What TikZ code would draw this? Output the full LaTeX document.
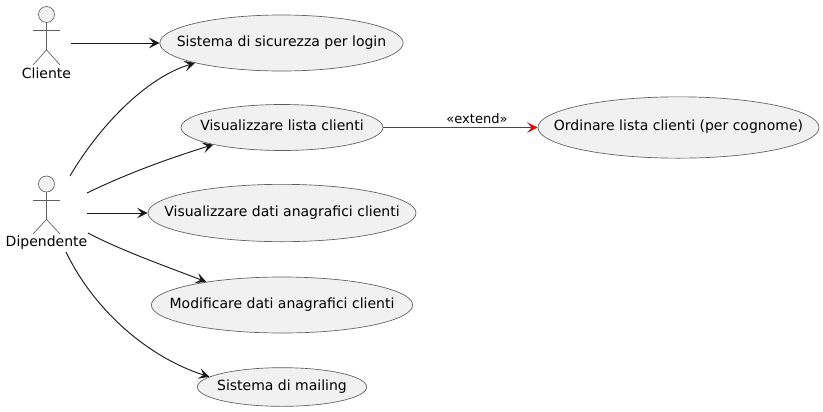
\documentclass[tikz,border=0pt]{standalone}
\usepackage{fontspec}
\setmainfont{DejaVu Sans}
\usetikzlibrary{arrows.meta,shapes.geometric}
\definecolor{ucfill}{HTML}{F1F1F1}
\definecolor{ucline}{HTML}{5F5F5F}
\definecolor{extred}{HTML}{F00000}
\tikzset{
  usecase/.style={ellipse,draw=ucline,fill=ucfill,line width=0.5pt,inner sep=0pt,label={[font=\fontsize{10.5}{12}\selectfont,inner sep=0pt,text height=8pt,text depth=2.5pt,yshift=0.5pt]center:#1}},
  actorline/.style={draw=ucline,line width=0.5pt},
  actorhead/.style={circle,draw=ucline,fill=ucfill,line width=0.5pt,minimum size=12pt,inner sep=0pt},
  actorname/.style={inner sep=0pt,font=\fontsize{10.5}{12}\selectfont},
  conn/.style={-{Stealth[length=8pt,width=8pt,inset=3.5pt]},line width=0.7pt,black!90},
  extconn/.style={-{Stealth[length=8pt,width=8pt,inset=3.5pt]},line width=0.7pt,extred}
}
\begin{document}
\begin{tikzpicture}[x=0.75pt,y=-0.75pt]
        \useasboundingbox (0,0) rectangle (823,411);
        % use cases
        \node[usecase={Sistema di sicurezza per login},minimum width=182.5pt,minimum height=42pt] (sicurezza) at (281.5,43) {};
        \node[usecase={Visualizzare lista clienti},minimum width=151.5pt,minimum height=34.5pt] (lista) at (282,127.5) {};
        \node[usecase={Ordinare lista clienti (per cognome)},minimum width=210.8pt,minimum height=46pt] (ordinare) at (678.5,127.5) {};
        \node[usecase={Visualizzare dati anagrafici clienti},minimum width=201pt,minimum height=43pt] (dati) at (282,213) {};
        \node[usecase={Modificare dati anagrafici clienti},minimum width=196pt,minimum height=42pt] (modifica) at (282,305) {};
        \node[usecase={Sistema di mailing},minimum width=127pt,minimum height=29pt] (mailing) at (282,387) {};
        % actors
        \node[actorhead] (cliente) at (46.5,14.5) {};
        \draw[actorline] (cliente.south) -- ++(0,27) coordinate (clientehip);
        \draw[actorline] (33,30) -- (60,30);
        \draw[actorline] (33,65) -- (clientehip) -- (60,65);
        \node[actorname] (clientename) at (46.5,73) {Cliente};
        \node[actorhead] (dipendente) at (46.5,184) {};
        \draw[actorline] (dipendente.south) -- ++(0,27) coordinate (dipendentehip);
        \draw[actorline] (33,200) -- (60,200);
        \draw[actorline] (33,234) -- (dipendentehip) -- (60,234);
        \node[actorname] (dipendentename) at (46.5,243) {Dipendente};
        % free ends of the connectors
        \coordinate (clienteout) at (71,43);
        \coordinate (dipa) at (70,176);
        \coordinate (dipb) at (87,193);
        \coordinate (dipc) at (87,213);
        \coordinate (dipd) at (88,233);
        \coordinate (dipe) at (66,252);
        % connectors
        \draw[conn] (clienteout) -- (sicurezza.west);
        \draw[conn] (dipa) .. controls (98,128) and (145,78) .. (sicurezza.193.4);
        \draw[conn] (dipb) .. controls (130,172) and (175,156.5) .. (lista.194.4);
        \draw[conn] (dipc) -- (dati.west);
        \draw[conn] (dipd) .. controls (120,250) and (165,266) .. (modifica.163);
        \draw[conn] (dipe) .. controls (95,312) and (150,358) .. (mailing.172.1);
        \draw[extconn] (lista.east) -- (ordinare.west);
        \node[black,inner sep=0pt,font=\fontsize{9.8}{11}\selectfont] (extlabel) at (477,119) {«extend»};
\end{tikzpicture}
\end{document}
